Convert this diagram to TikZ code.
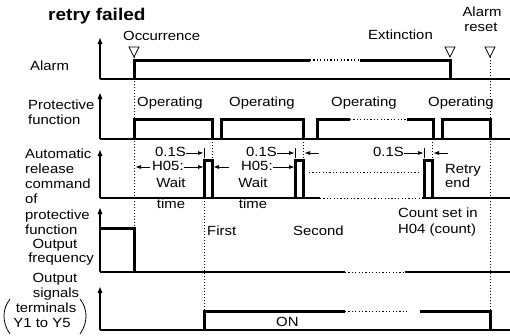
\documentclass[tikz,border=0pt]{standalone}
\usepackage{fontspec}
\setmainfont{Liberation Sans}[FakeStretch=1.12]
\usetikzlibrary{arrows.meta}
\begin{document}
\begin{tikzpicture}[x=1pt,y=-1pt,
  lbl/.style={inner sep=0pt, font=\fontsize{13.3}{15}\selectfont, text height=9.5pt, text depth=2.5pt},
  axis/.style={line width=1.1pt, -{Triangle[length=6pt,width=4.5pt]}},
  base/.style={line width=1.2pt},
  wave/.style={line width=3pt, line join=miter},
  dots/.style={line width=1pt, dash pattern=on 1.2pt off 2.2pt},
  vdots/.style={line width=0.8pt, dash pattern=on 1pt off 2pt},
  ann/.style={line width=0.8pt, -{Triangle[length=5pt,width=3.6pt]}},
  tri/.style={line width=0.8pt},
  bar/.style={line width=0.8pt}
]
\useasboundingbox (0,0) rectangle (510,335);
\fill[white] (0,0) rectangle (510,335);

% title
\node[lbl, font=\bfseries\fontsize{17}{19}\selectfont, anchor=west] (title) at (48,17) {retry failed};

% ---------------- Alarm ----------------
\coordinate (a0) at (100,79);
\coordinate (aT) at (100,38);
\coordinate (aE) at (510,79);
\draw[axis] (a0) -- (aT);
\draw[base] (a0) -- (aE);
\draw[wave] (134,79) -- (134,60) -- (310,60);
\draw[dots, line width=1.3pt] (310,60) -- (360,60);
\draw[wave] (360,60) -- (450,60) -- (450,79);
\draw[tri] (129,47) -- (139,47) -- (134,57) -- cycle;
\draw[tri] (445,47) -- (455,47) -- (450,57) -- cycle;
\draw[tri] (485,47) -- (495,47) -- (490,57) -- cycle;
\node[lbl, anchor=west] (occ) at (123,37) {Occurrence};
\node[lbl, anchor=east] (ext) at (433,36) {Extinction};
\node[lbl] (ar1) at (482,13) {Alarm};
\node[lbl] (ar2) at (481,28) {reset};
\node[lbl, anchor=west] (lAlarm) at (30,67) {Alarm};

% vertical dotted guides
\draw[vdots] (134,57) -- (134,228);
\draw[vdots] (490,57) -- (490,330);
\draw[vdots] (212,139) -- (212,160);
\draw[vdots] (303,139) -- (303,160);
\draw[vdots] (432,139) -- (432,160);
\draw[vdots] (204,198) -- (204,311);

% ---------------- Protective function ----------------
\draw[axis] (100,139) -- (100,93);
\draw[base] (100,139) -- (510,139);
\draw[wave] (134,139) -- (134,119) -- (212,119) -- (212,139);
\draw[wave] (221,139) -- (221,119) -- (303,119) -- (303,139);
\draw[wave] (317,139) -- (317,119) -- (350,119);
\draw[dots] (350,119) -- (407,119);
\draw[wave] (407,119) -- (433,119) -- (433,139);
\draw[wave] (442,139) -- (442,119) -- (490,119) -- (490,139);
\node[lbl, anchor=west] (op1) at (137,103) {Operating};
\node[lbl, anchor=west] (op2) at (229,103) {Operating};
\node[lbl, anchor=west] (op3) at (331,103) {Operating};
\node[lbl, anchor=west] (op4) at (428,103) {Operating};
\node[lbl, anchor=west] (lP1) at (28,106) {Protective};
\node[lbl, anchor=west] (lP2) at (28,121) {function};

% ---------------- Automatic release command ----------------
\draw[axis] (100,198) -- (100,150);
\draw[base] (100,198) -- (320,198);
\draw[dots] (320,198) -- (422,198);
\draw[base] (422,198) -- (510,198);
\draw[wave] (204,198) -- (204,160) -- (212,160) -- (212,198);
\draw[wave] (295,198) -- (295,160) -- (303,160) -- (303,198);
\draw[wave] (424,198) -- (424,160) -- (432,160) -- (432,198);
\draw[dots] (309,172) -- (420,172);

% row 1: 0.1S
\node[lbl, anchor=east] (s1) at (186,153) {0.1S};
\coordinate (s1e) at (203,153);
\draw[ann] (s1) -- (s1e);
\draw[bar] (204,148) -- (204,158);
\node[lbl, anchor=east] (s2) at (277,153) {0.1S};
\coordinate (s2e) at (294,153);
\draw[ann] (s2) -- (s2e);
\draw[bar] (295,148) -- (295,158);
\coordinate (r2a) at (319,153);
\coordinate (r2b) at (305,153);
\draw[ann] (r2a) -- (r2b);
\node[lbl, anchor=east] (s3) at (404,153) {0.1S};
\coordinate (s3e) at (423,153);
\draw[ann] (s3) -- (s3e);
\draw[bar] (424,148) -- (424,158);
\coordinate (r3a) at (448,153);
\coordinate (r3b) at (434,153);
\draw[ann] (r3a) -- (r3b);

% row 2: H05
\coordinate (h1a) at (150,167);
\coordinate (h1b) at (136,167);
\draw[ann] (h1a) -- (h1b);
\node[lbl, anchor=west] (h1) at (152,167) {H05:};
\coordinate (h1e) at (203,167);
\draw[ann] (h1) -- (h1e);
\coordinate (h2a) at (229,167);
\coordinate (h2b) at (214,167);
\draw[ann] (h2a) -- (h2b);
\node[lbl, anchor=west] (h2) at (241,167) {H05:};
\coordinate (h2e) at (294,167);
\draw[ann] (h2) -- (h2e);
\node[lbl] (w1) at (171,184) {Wait};
\node[lbl] (t1) at (171,204.5) {time};
\node[lbl] (w2) at (253,184) {Wait};
\node[lbl] (t2) at (253,204.5) {time};
\node[lbl, anchor=west] (re1) at (445,170) {Retry};
\node[lbl, anchor=west] (re2) at (445,184) {end};
\node[lbl, anchor=west] (cs1) at (398,214) {Count set in};
\node[lbl, anchor=west] (cs2) at (398,230) {H04 (count)};

\node[lbl, anchor=west] (lR1) at (25,155) {Automatic};
\node[lbl, anchor=west] (lR2) at (25,170) {release};
\node[lbl, anchor=west] (lR3) at (25,185) {command};
\node[lbl, anchor=west] (lR4) at (25,200) {of};
\node[lbl, anchor=west] (lR5) at (25,216) {protective};
\node[lbl, anchor=west] (lR6) at (25,231) {function};

% ---------------- Output frequency ----------------
\draw[axis] (100,272) -- (100,208);
\draw[wave] (100,228) -- (134,228) -- (134,272);
\draw[base] (100,272) -- (345,272);
\draw[dots] (345,272) -- (405,272);
\draw[base] (405,272) -- (510,272);
\node[lbl, anchor=west] (first) at (207,232) {First};
\node[lbl, anchor=west] (second) at (293,232) {Second};
\node[lbl] (lF1) at (55,245) {Output};
\node[lbl] (lF2) at (61,259) {frequency};

% ---------------- Output signals ----------------
\draw[axis] (100,330) -- (100,287);
\draw[base] (100,330) -- (510,330);
\draw[wave] (204,330) -- (204,311) -- (345,311);
\draw[dots] (345,311) -- (408,311);
\draw[wave] (420,311) -- (490,311) -- (490,330);
\node[lbl, anchor=west] (on) at (276,323) {ON};
\node[lbl] (lS1) at (55,279) {Output};
\node[lbl] (lS2) at (56,294) {signals};
\node[lbl] (lS3) at (46,309) {terminals};
\node[lbl] (lS4) at (42,324) {Y1 to Y5};
\draw[line width=0.8pt] (10,299) .. controls (2,309) and (2,323) .. (10,334);
\draw[line width=0.8pt] (80,299) .. controls (88,309) and (88,323) .. (80,334);
\end{tikzpicture}
\end{document}
